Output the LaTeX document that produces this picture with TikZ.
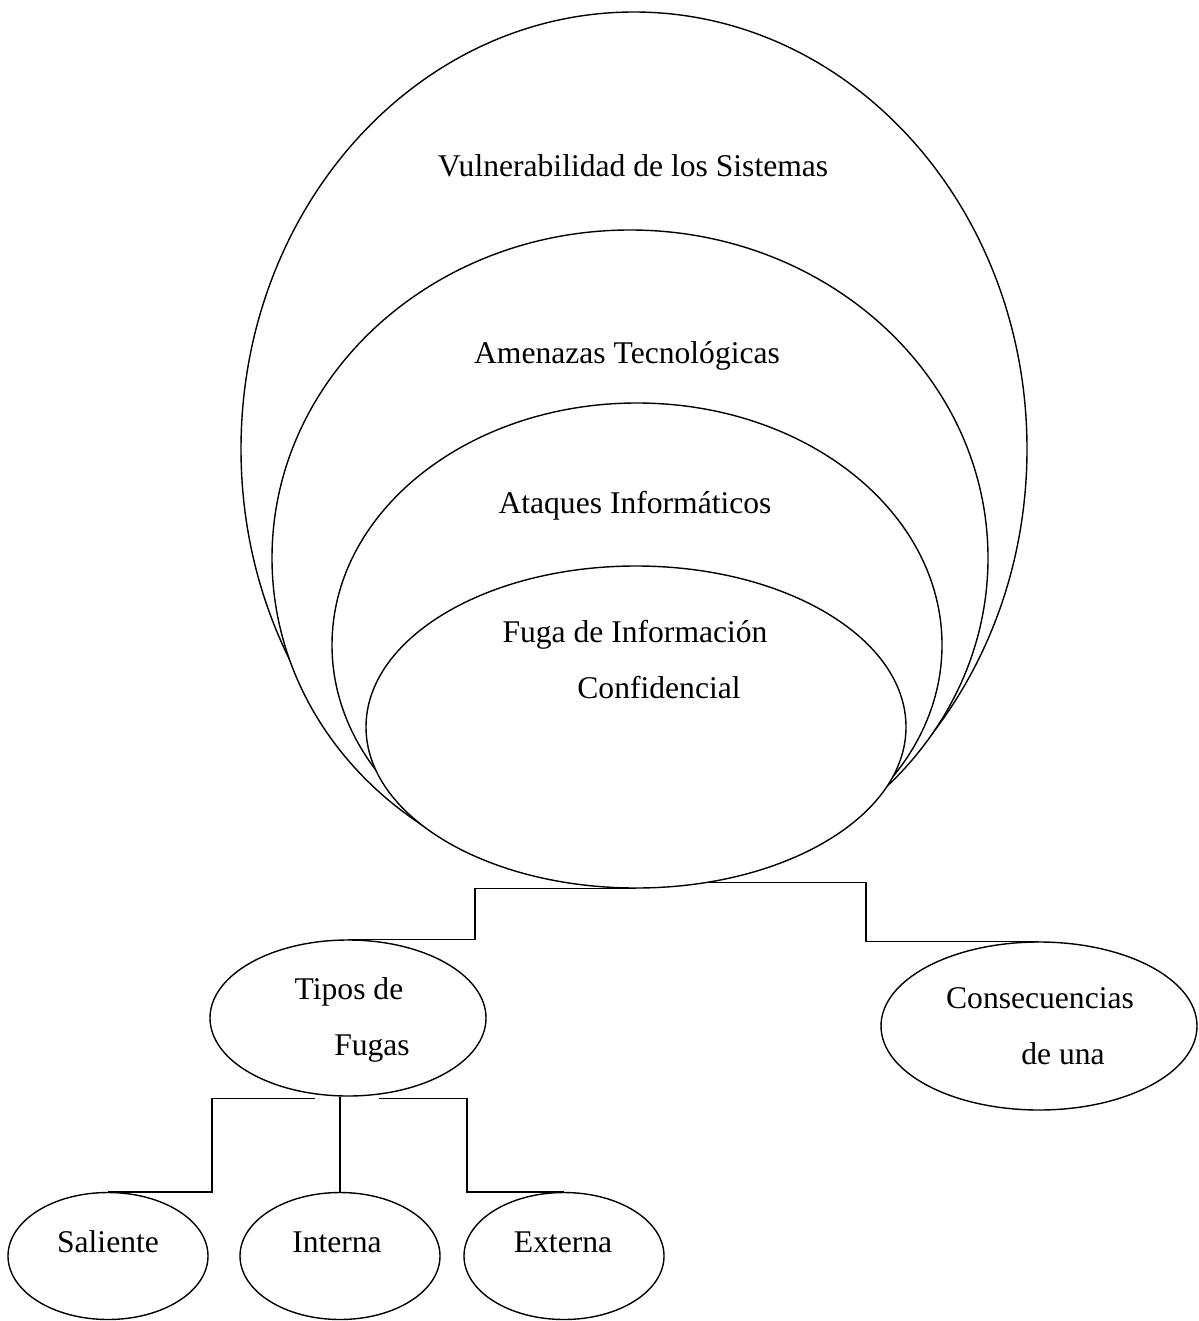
\documentclass[tikz,border=0pt]{standalone}
\usepackage{fontspec}
\setmainfont{Liberation Serif}
\usetikzlibrary{shapes.geometric,calc}
\begin{document}
\begin{tikzpicture}[x=1pt,y=-1pt,
  ring/.style={draw, fill=white, ellipse, inner sep=0pt, line width=1.4pt},
  lbl/.style={inner sep=0pt, anchor=base, font=\fontsize{31.6}{38}\selectfont},
  link/.style={draw, line width=1.4pt}]
\useasboundingbox (0,0) rectangle (1198,1321);

% nested ellipses, largest first so each inner one hides the lines behind it
\node[ring, minimum width=786pt, minimum height=874pt] (vuln) at (634,449) {};
\node[ring, minimum width=716pt, minimum height=656pt] (amen) at (630,558) {};
\node[ring, minimum width=610pt, minimum height=484pt] (ataq) at (637,645) {};
\node[ring, minimum width=540pt, minimum height=322pt] (fuga) at (636,727) {};

\node[lbl] (tvuln) at (633,177) {Vulnerabilidad de los Sistemas};
\node[lbl] (tamen) at (627,363) {Amenazas Tecnológicas};
\node[lbl] (tataq) at (635,513) {Ataques Informáticos};
\node[lbl] (tfuga1) at (635,642) {Fuga de Información};
\node[lbl] (tfuga2) at (659,698) {Confidencial};

% second level
\node[ring, minimum width=276pt, minimum height=156pt] (tipos) at (348,1018) {};
\node[ring, minimum width=316pt, minimum height=168pt] (conseq) at (1039,1026) {};
\node[lbl] (ttipos1) at (349,999) {Tipos de};
\node[lbl] (ttipos2) at (372,1055) {Fugas};
\node[lbl] (tcons1) at (1040,1008) {Consecuencias};
\node[lbl] (tcons2) at (1063,1064) {de una};

% third level
\node[ring, minimum width=200pt, minimum height=127pt] (sal) at (108,1256) {};
\node[ring, minimum width=200pt, minimum height=127pt] (int) at (340,1256) {};
\node[ring, minimum width=200pt, minimum height=127pt] (ext) at (564,1256) {};
\node[lbl] (tsal) at (108,1252) {Saliente};
\node[lbl] (tint) at (337,1252) {Interna};
\node[lbl] (text) at (563,1252) {Externa};

% elbow connectors
\coordinate (jL) at (475,914);
\coordinate (jR) at (866,912);
\coordinate (jSL) at (212,1150);
\coordinate (jSR) at (467,1150);
\draw[link] (fuga.south) -| (jL) |- (tipos.north);
\draw[link] (fuga.-65) -| (jR) |- (conseq.north);
\draw[link] ($(tipos.south)+(-33,2)$) -| (jSL) |- (sal.north);
\draw[link] (int.north) -- (int.north |- tipos.south);
\draw[link] ($(tipos.south)+(31,2)$) -| (jSR) |- (ext.north);
\end{tikzpicture}
\end{document}
